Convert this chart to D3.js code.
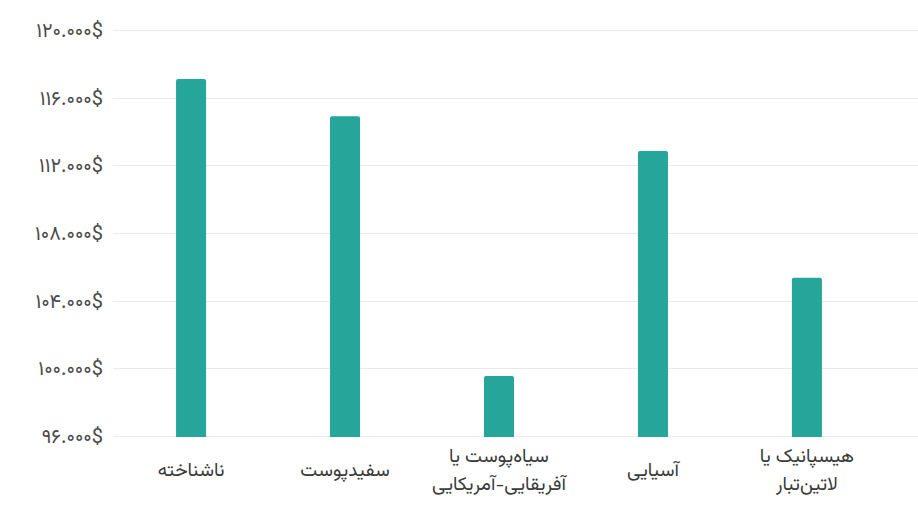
<!DOCTYPE html>
<html lang="fa">
<head>
<meta charset="utf-8">
<script src="https://cdn.jsdelivr.net/npm/d3@7"></script>
<style>
  html, body { margin: 0; padding: 0; background: #fff; }
  svg { display: block; font-family: Vazirmatn, "DejaVu Sans", sans-serif; }
</style>
</head>
<body>
<svg id="chart"></svg>
<script>
// ===== DATA =====
const categories = ['unknown', 'white', 'black', 'asian', 'hispanic'];
const categoryLabels = [
    ['ناشناخته'],
    ['سفیدپوست'],
    ['سیاه‌پوست یا', 'آفریقایی-آمریکایی'],
    ['آسیایی'],
    ['هیسپانیک یا', 'لاتین‌تبار']
];
const medianIncome = [117100, 114900, 99550, 112850, 105350];
const yTicks = [96000, 100000, 104000, 108000, 112000, 116000, 120000];

// ===== LAYOUT =====
const width = 918;
const height = 518;
const margin = { top: 30, right: 0, bottom: 82, left: 112 };

const faLocale = d3.formatLocale({
    decimal: '٫',
    thousands: '.',
    grouping: [3],
    currency: ['', '$'],
    numerals: ['۰', '۱', '۲', '۳', '۴', '۵', '۶', '۷', '۸', '۹']
});
const fmt = faLocale.format(',d');

const svg = d3.select('#chart')
    .attr('width', width)
    .attr('height', height)
    .attr('viewBox', `0 0 ${width} ${height}`);

const x = d3.scaleBand()
    .domain(categories)
    .range([margin.left, width - margin.right])
    .paddingInner(0.805)
    .paddingOuter(0.52)
    .align(0.4);

const y = d3.scaleLinear()
    .domain([96000, 120000])
    .range([height - margin.bottom, margin.top]);

// Gridlines
svg.append('g')
    .selectAll('line')
    .data(yTicks)
    .join('line')
    .attr('x1', margin.left + 1)
    .attr('x2', width)
    .attr('y1', d => Math.round(y(d)) + 0.5)
    .attr('y2', d => Math.round(y(d)) + 0.5)
    .attr('stroke', '#ebebeb')
    .attr('stroke-width', 1);

// Y labels
svg.append('g')
    .selectAll('text')
    .data(yTicks)
    .join('text')
    .attr('x', margin.left - 9)
    .attr('y', d => y(d))
    .attr('dy', '0.35em')
    .attr('text-anchor', 'end')
    .attr('direction', 'ltr')
    .style('font-size', '20px')
    .style('fill', '#4a4a4a')
    .text(d => fmt(d) + '$');

// Bars with small rounded top corners
const r = 2;
const y0 = y(96000) + 1;
svg.append('g')
    .selectAll('path')
    .data(categories)
    .join('path')
    .attr('fill', '#26a69a')
    .attr('d', (c, i) => {
        const x0 = x(c);
        const x1 = x0 + x.bandwidth();
        const top = y(medianIncome[i]);
        return `M${x0},${y0}V${top + r}Q${x0},${top} ${x0 + r},${top}` +
               `H${x1 - r}Q${x1},${top} ${x1},${top + r}V${y0}Z`;
    });

// X labels
const lineHeight = 28;
const labelCenter = height - margin.bottom + 33;
const xLabels = svg.append('g')
    .selectAll('text')
    .data(categories)
    .join('text')
    .attr('text-anchor', 'middle')
    .attr('direction', 'rtl')
    .style('font-size', '19px')
    .style('fill', '#3a3a3a');

xLabels.each(function (c, i) {
    const lines = categoryLabels[i];
    const cx = x(c) + x.bandwidth() / 2;
    const startY = labelCenter - (lines.length - 1) * lineHeight / 2;
    d3.select(this).selectAll('tspan')
        .data(lines)
        .join('tspan')
        .attr('x', cx)
        .attr('y', (d, j) => startY + j * lineHeight)
        .attr('dy', '0.35em')
        .text(d => d);
});
</script>
</body>
</html>
